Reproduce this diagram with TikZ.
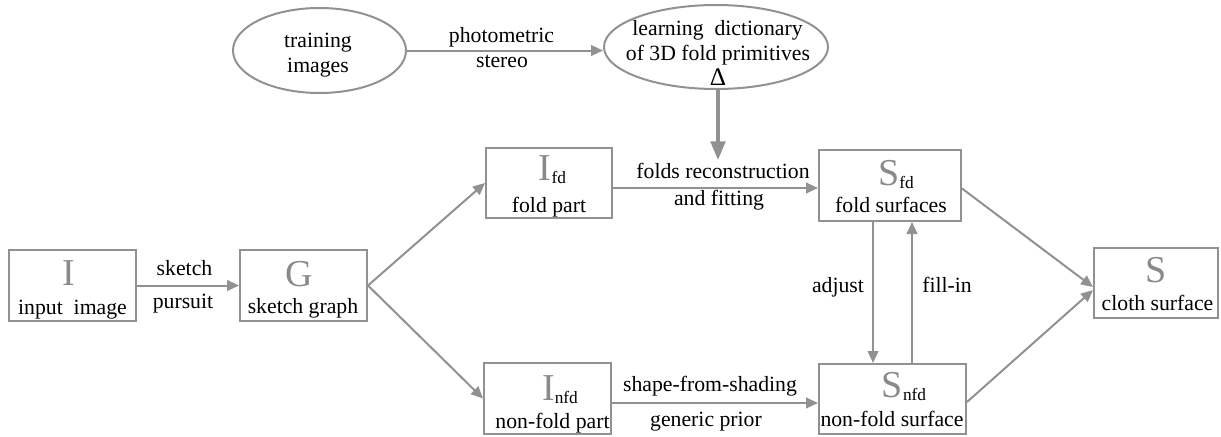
\documentclass[tikz,border=0pt]{standalone}
\usepackage{fontspec}
\setmainfont{Liberation Serif}
\newfontfamily\timesface{Liberation Serif}
\usetikzlibrary{arrows.meta,calc,shapes.geometric}
\definecolor{linegray}{RGB}{145,145,145}
\definecolor{lettergray}{RGB}{138,138,138}
\newcommand{\subfd}[1]{{\fontsize{13}{14}\selectfont\raisebox{-2.5pt}{#1}}}
\newcommand{\bigsymbol}[1]{\textcolor{lettergray}{#1}}

\begin{document}
\begin{tikzpicture}[x=0.75pt,y=-0.75pt,
  font=\timesface\fontsize{16.3}{19}\selectfont,
  stagebox/.style 2 args={draw=linegray,line width=1.5pt,rectangle,inner sep=0pt,
    minimum width=#1*0.75pt,minimum height=#2*0.75pt},
  oval/.style 2 args={draw=linegray,line width=1.5pt,ellipse,inner sep=0pt,
    minimum width=#1*0.75pt,minimum height=#2*0.75pt},
  bigsym/.style={anchor=base,inner sep=0pt,font=\timesface\fontsize{28.5}{30}\selectfont},
  caption/.style={anchor=base,inner sep=0pt},
  flow/.style={draw=linegray,line width=1.5pt,-{Triangle[length=9pt,width=8pt]}},
  bigflow/.style={draw=linegray,line width=2.4pt,-{Triangle[length=14pt,width=11pt]}},
]
\useasboundingbox (0,0) rectangle (1221,436);

% stage boxes
\node[stagebox={127}{71}] (I)    at (72.5,285.5) {};
\node[stagebox={127}{71}] (G)    at (303.5,285.5) {};
\node[stagebox={126}{70}] (Ifd)  at (549,183) {};
\node[stagebox={142}{71}] (Sfd)  at (890,185.5) {};
\node[stagebox={127}{71}] (Infd) at (547.5,398.5) {};
\node[stagebox={147}{70}] (Snfd) at (892.5,399) {};
\node[stagebox={124}{70}] (S)    at (1156,283) {};

% symbols and captions inside the boxes
\node[bigsym]  (I-sym)    at (69,285)    {\bigsymbol{I}};
\node[caption] (I-cap)    at (72.5,314)  {input~~image};
\node[bigsym]  (G-sym)    at (299,286)   {\bigsymbol{G}};
\node[caption] (G-cap)    at (303,313)   {sketch graph};
\node[bigsym]  (Ifd-sym)  at (552.5,180) {\bigsymbol{I}\subfd{fd}};
\node[caption] (Ifd-cap)  at (549,212)   {fold part};
\node[bigsym]  (Sfd-sym)  at (896,185)   {\bigsymbol{S}\subfd{fd}};
\node[caption] (Sfd-cap)  at (891,212)   {fold surfaces};
\node[bigsym]  (Infd-sym) at (560,400)   {\bigsymbol{I}\subfd{nfd}};
\node[caption] (Infd-cap) at (552.5,428) {non-fold part};
\node[bigsym]  (Snfd-sym) at (904,397)   {\bigsymbol{S}\subfd{nfd}};
\node[caption] (Snfd-cap) at (892,426)   {non-fold surface};
\node[bigsym]  (S-sym)    at (1156,282)  {\bigsymbol{S}};
\node[caption] (S-cap)    at (1157.5,310) {cloth surface};

% training and dictionary ellipses
\node[oval={173}{85}] (train) at (319.5,50.5) {};
\node[caption] (train-1) at (318,47) {training};
\node[caption] (train-2) at (318,72) {images};
\node[oval={224}{84}] (dict) at (716,47) {};
\node[caption] (dict-1) at (717.5,35) {learning~~dictionary};
\node[caption] (dict-2) at (718,60) {of 3D fold primitives};
\node[caption,font=\timesface\fontsize{19}{20}\selectfont] (delta) at (718,85) {Δ};

% connectors
\draw[flow] (I) -- (G);
\draw[flow] (G.east) -- (Ifd.west);
\draw[flow] (G.east) -- (Infd.west);
\draw[flow] (train.east) -- (train.east -| dict.west);
\coordinate (fr-start) at ($(Ifd.east)+(0,5)$);
\draw[flow] (fr-start) -- (fr-start -| Sfd.west);
\coordinate (sfs-start) at ($(Infd.east)+(0,4.5)$);
\draw[flow] (sfs-start) -- (sfs-start -| Snfd.west);
\coordinate (dict-end) at (718,160);
\draw[bigflow] (dict.south -| delta.center) -- (dict-end);
\coordinate (adj-top) at ($(Sfd.south)+(-17,0)$);
\draw[flow] (adj-top) -- (adj-top |- Snfd.north);
\coordinate (fill-top) at ($(Sfd.south)+(22,0)$);
\draw[flow] (fill-top |- Snfd.north) -- (fill-top);
\draw[flow] ($(Sfd.east)+(0,3)$) -- ($(S.west)+(0,4)$);
\draw[flow] ($(Snfd.east)+(0,3)$) -- ($(S.west)+(0,7)$);

% connector labels
\node[caption] (l-sketch)  at (184.5,275) {sketch};
\node[caption] (l-pursuit) at (183,308)   {pursuit};
\node[caption] (l-photo)   at (501.5,42)  {photometric};
\node[caption] (l-stereo)  at (502,67)    {stereo};
\node[caption] (l-folds)   at (723,178)   {folds reconstruction};
\node[caption] (l-fit)     at (719,205)   {and fitting};
\node[caption] (l-sfs)     at (710,391)   {shape-from-shading};
\node[caption] (l-prior)   at (706,426)   {generic prior};
\node[caption] (l-adjust)  at (838,292)   {adjust};
\node[caption] (l-fill)    at (947,292)   {fill-in};
\end{tikzpicture}
\end{document}
